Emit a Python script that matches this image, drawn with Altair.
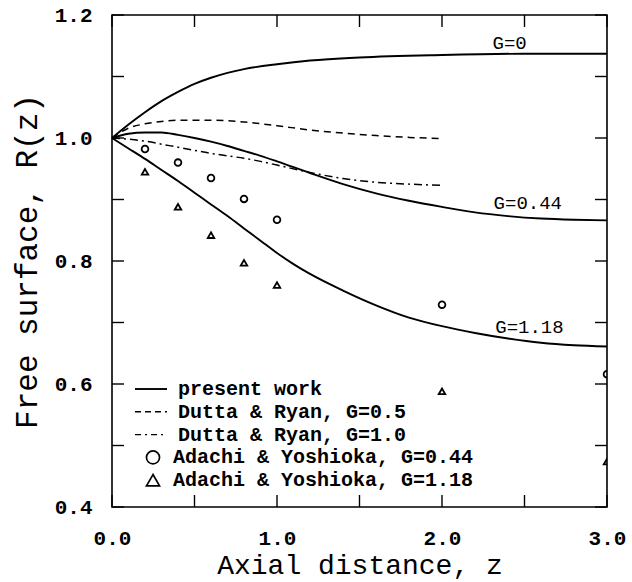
import altair as alt
import pandas as pd

W, H = 495, 492
FONT = "Liberation Mono"

# present work, G=0
z_g0 = [0.0, 0.1, 0.2, 0.3, 0.4, 0.5, 0.6, 0.7, 0.8, 1.0, 1.2, 1.5, 2.0, 2.5, 3.0]
r_g0 = [1.0, 1.022, 1.042, 1.060, 1.075, 1.088, 1.098, 1.106, 1.112, 1.120, 1.126, 1.131, 1.135, 1.137, 1.137]
# present work, G=0.44
z_g044 = [0.0, 0.1, 0.2, 0.3, 0.4, 0.5, 0.6, 0.7, 0.8, 0.9, 1.0, 1.2, 1.4, 1.6, 1.8, 2.0, 2.2, 2.4, 2.6, 2.8, 3.0]
r_g044 = [1.0, 1.007, 1.009, 1.009, 1.005, 1.000, 0.994, 0.987, 0.979, 0.971, 0.962, 0.943, 0.925, 0.910, 0.898,
          0.888, 0.879, 0.873, 0.869, 0.867, 0.866]
# present work, G=1.18
z_g118 = [0.0, 0.1, 0.2, 0.3, 0.4, 0.5, 0.6, 0.7, 0.8, 0.9, 1.0, 1.1, 1.2, 1.4, 1.6, 1.8, 2.0, 2.2, 2.4, 2.6, 2.8, 3.0]
r_g118 = [1.0, 0.983, 0.966, 0.948, 0.930, 0.911, 0.892, 0.873, 0.853, 0.833, 0.813, 0.795, 0.779, 0.752, 0.728,
          0.708, 0.694, 0.683, 0.674, 0.667, 0.663, 0.661]
# Dutta & Ryan, G=0.5 (dashed)
z_dr05 = [0.0, 0.1, 0.2, 0.3, 0.4, 0.5, 0.6, 0.8, 1.0, 1.2, 1.4, 1.6, 1.8, 2.0]
r_dr05 = [1.0, 1.016, 1.023, 1.027, 1.029, 1.029, 1.029, 1.026, 1.020, 1.013, 1.008, 1.004, 1.001, 0.999]
# Dutta & Ryan, G=1.0 (dash-dot)
z_dr10 = [0.0, 0.1, 0.2, 0.3, 0.4, 0.5, 0.6, 0.7, 0.8, 0.9, 1.0, 1.2, 1.4, 1.6, 1.8, 2.0]
r_dr10 = [1.0, 0.998, 0.995, 0.990, 0.985, 0.980, 0.975, 0.971, 0.967, 0.962, 0.956, 0.944, 0.934, 0.928, 0.925, 0.923]
# Adachi & Yoshioka
z_ay044 = [0.2, 0.4, 0.6, 0.8, 1.0, 2.0, 3.0]
r_ay044 = [0.982, 0.960, 0.935, 0.901, 0.867, 0.729, 0.616]
z_ay118 = [0.2, 0.4, 0.6, 0.8, 1.0, 2.0, 3.0]
r_ay118 = [0.945, 0.888, 0.842, 0.797, 0.761, 0.588, 0.474]

# curve labels
lab_text = ["G=0", "G=0.44", "G=1.18"]
lab_z = [2.41, 2.52, 2.53]
lab_r = [1.154, 0.894, 0.693]

x_ticks = [0.0, 0.5, 1.0, 1.5, 2.0, 2.5, 3.0]
y_ticks = [0.4, 0.5, 0.6, 0.7, 0.8, 0.9, 1.0, 1.1, 1.2]
x_labels = [0.0, 1.0, 2.0, 3.0]
y_labels = [0.4, 0.6, 0.8, 1.0, 1.2]

legend_labels = ["present work", "Dutta & Ryan, G=0.5", "Dutta & Ryan, G=1.0",
                 "Adachi & Yoshioka, G=0.44", "Adachi & Yoshioka, G=1.18"]

xs = alt.Scale(domain=[0, 3], nice=False, zero=False)
ys = alt.Scale(domain=[0.4, 1.2], nice=False, zero=False)

xaxis = alt.Axis(values=x_labels, format=".1f", grid=False, ticks=False, tickSize=0, domain=False,
                 labelFont=FONT, labelFontSize=21, labelFontWeight="bold", labelFlush=False,
                 labelBaseline="middle", labelPadding=31, labelColor="black",
                 title="Axial distance, z", titleFont=FONT, titleFontSize=28, titleFontWeight="normal",
                 titleBaseline="middle", titleY=58, titleColor="black")
yaxis = alt.Axis(values=y_labels, format=".1f", grid=False, ticks=False, tickSize=0, domain=False,
                 labelFont=FONT, labelFontSize=21, labelFontWeight="bold", labelFlush=False,
                 labelPadding=20, labelColor="black",
                 title="Free surface, R(z)", titleFont=FONT, titleFontSize=31, titleFontWeight="normal",
                 titleBaseline="middle", titleX=-85, titleColor="black")


def line(z, r, dash=None, width=1.9):
    df = pd.DataFrame({"z": z, "r": r})
    kw = dict(color="black", strokeWidth=width, interpolate="monotone")
    if dash:
        kw["strokeDash"] = dash
    return alt.Chart(df).mark_line(**kw).encode(
        x=alt.X("z:Q", scale=xs, axis=xaxis),
        y=alt.Y("r:Q", scale=ys, axis=yaxis),
    )


layers = [
    line(z_g0, r_g0),
    line(z_g044, r_g044),
    line(z_g118, r_g118),
    line(z_dr05, r_dr05, dash=[7, 5], width=1.5),
    line(z_dr10, r_dr10, dash=[8, 4, 2, 4], width=1.5),
]

pts1 = pd.DataFrame({"z": z_ay044, "r": r_ay044})
pts2 = pd.DataFrame({"z": z_ay118, "r": r_ay118})
layers.append(alt.Chart(pts1).mark_point(shape="circle", filled=False, color="black", size=45,
                                         strokeWidth=1.8, opacity=1, clip=True).encode(
    x=alt.X("z:Q", scale=xs), y=alt.Y("r:Q", scale=ys)))
layers.append(alt.Chart(pts2).mark_point(shape="triangle-up", filled=False, color="black", size=42,
                                         strokeWidth=1.8, opacity=1, clip=True).encode(
    x=alt.X("z:Q", scale=xs), y=alt.Y("r:Q", scale=ys)))

labs = pd.DataFrame({"t": lab_text, "z": lab_z, "r": lab_r})
layers.append(alt.Chart(labs).mark_text(font=FONT, fontSize=19, color="black", align="center",
                                        baseline="middle").encode(
    x=alt.X("z:Q", scale=xs), y=alt.Y("r:Q", scale=ys), text="t:N"))

# inward ticks on all four sides (explicit segments)
xt = pd.DataFrame({"v": x_ticks})
yt = pd.DataFrame({"v": y_ticks})
TL = 12
tick_kw = dict(color="black", strokeWidth=1.4)
layers.append(alt.Chart(xt).mark_rule(**tick_kw).encode(
    x=alt.X("v:Q", scale=xs), x2="v:Q", y=alt.value(H), y2=alt.value(H - TL)))
layers.append(alt.Chart(xt).mark_rule(**tick_kw).encode(
    x=alt.X("v:Q", scale=xs), x2="v:Q", y=alt.value(0), y2=alt.value(TL)))
layers.append(alt.Chart(yt).mark_rule(**tick_kw).encode(
    y=alt.Y("v:Q", scale=ys), y2="v:Q", x=alt.value(0), x2=alt.value(TL)))
layers.append(alt.Chart(yt).mark_rule(**tick_kw).encode(
    y=alt.Y("v:Q", scale=ys), y2="v:Q", x=alt.value(W), x2=alt.value(W - TL)))

# legend
row0, dy = 374, 22.8
for i, lab in enumerate(legend_labels):
    ry = row0 + dy * i
    d = pd.DataFrame({"label": [lab]})
    if i < 3:
        kw = dict(color="black", strokeWidth=1.9 if i == 0 else 1.4)
        if i == 1:
            kw["strokeDash"] = [6, 4]
        if i == 2:
            kw["strokeDash"] = [6, 4, 2, 4]
        layers.append(alt.Chart(d).mark_rule(**kw).encode(
            x=alt.value(23), x2=alt.value(55), y=alt.value(ry), y2=alt.value(ry)))
        tx = 66
    else:
        shape = "circle" if i == 3 else "triangle-up"
        layers.append(alt.Chart(d).mark_point(shape=shape, filled=False, color="black", size=170,
                                              strokeWidth=1.7, opacity=1).encode(
            x=alt.value(41), y=alt.value(ry)))
        tx = 61
    layers.append(alt.Chart(d).mark_text(font=FONT, fontSize=20, fontWeight="bold", color="black",
                                         align="left", baseline="middle").encode(
        x=alt.value(tx), y=alt.value(ry), text="label:N"))

chart = alt.layer(*layers).properties(
    width=W, height=H,
    autosize=alt.AutoSizeParams(type="none"),
    padding={"left": 112, "top": 15, "right": 25, "bottom": 75},
    background="white",
).configure_view(stroke="black", strokeWidth=1.6)

chart.save("out.html", embed_options={"renderer": "svg", "actions": False})
